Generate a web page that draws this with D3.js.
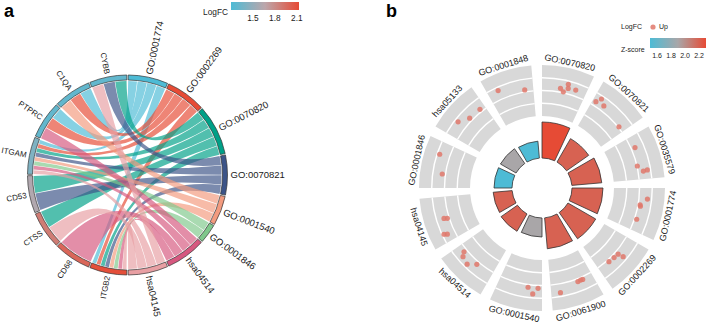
<!DOCTYPE html>
<html>
<head>
<meta charset="utf-8">
<script src="https://cdn.jsdelivr.net/npm/d3@7"></script>
<style>
  body { margin: 0; background: #fff; }
  svg { font-family: Arial, "Liberation Sans", sans-serif; }
</style>
</head>
<body>
<svg id="fig" width="708" height="329"></svg>
<script>
// ---- panel a: GOChord ----
const genes = ["ITGB2", "CD68", "CTSS", "CD53", "ITGAM", "PTPRC", "C1QA", "CYBB"];
const geneLogFC = [2.11, 1.99, 1.88, 1.62, 1.41, 1.29, 1.29, 1.29];
const chordTerms = ["GO:0001774", "GO:0002269", "GO:0070820", "GO:0070821",
                    "GO:0001540", "GO:0001846", "hsa04514", "hsa04145"];
const termColors = ["#4DBBD5", "#E64B35", "#00A087", "#3C5488",
                    "#F39B7F", "#80C88C", "#D6587F", "#E89FA3"];
// terms each gene belongs to (same order as genes)
const geneTerms = [
  ["GO:0001774", "GO:0002269", "GO:0070820", "GO:0070821", "GO:0001540", "GO:0001846", "hsa04514", "hsa04145"],
  ["hsa04514"],
  ["GO:0070820", "hsa04145"],
  ["GO:0070820", "GO:0070821"],
  ["GO:0001774", "GO:0002269", "GO:0070820", "GO:0070821", "GO:0001540", "GO:0001846", "hsa04514", "hsa04145"],
  ["GO:0001774", "GO:0002269", "hsa04514"],
  ["GO:0001774", "GO:0002269", "GO:0001540"],
  ["GO:0070820", "GO:0070821", "hsa04145"]
];
const lfcTicks = [1.5, 1.8, 2.1];

// ---- panel b: GOCircle ----
const circleTerms = ["GO:0070820", "GO:0070821", "GO:0035579", "GO:0001774", "GO:0002269", "GO:0061900",
                     "GO:0001540", "hsa04514", "hsa04145", "GO:0001846", "hsa05133", "GO:0001848"];
const termSig = [7.2, 5.4, 6.0, 6.2, 6.4, 6.2, 3.8, 4.0, 3.8, 3.6, 3.6, 3.4];
const termZ = [2.3, 2.2, 2.2, 2.2, 2.2, 2.2, 1.9, 2.2, 2.2, 1.5, 1.9, 1.5];
const dotPos = [
  [0.42, 0.50, 0.57, 0.59, 0.76],
  [0.08, 0.15, 0.28, 0.86],
  [0.26, 0.68, 0.81, 0.82],
  [0.24, 0.39, 0.42, 0.73],
  [0.41, 0.44, 0.56, 0.71],
  [0.24, 0.29, 0.36, 0.80],
  [0.09, 0.20, 0.32],
  [0.42, 0.58, 0.76, 0.83],
  [0.16, 0.19, 0.49, 0.51],
  [0.32, 0.73],
  [0.33, 0.56, 0.87],
  [0.23, 0.80]
];
const dotLogFC = [
  [1.73, 1.56, 2.06, 1.82, 1.86],
  [1.75, 2.06, 1.81, 1.55],
  [1.73, 1.52, 2.05, 1.81],
  [2.00, 1.62, 1.65, 1.63],
  [2.02, 1.70, 1.66, 1.62],
  [1.65, 1.64, 1.66, 2.02],
  [1.67, 2.02, 1.66],
  [1.67, 2.05, 1.92, 1.69],
  [1.96, 2.14, 1.61, 1.80],
  [1.69, 2.10],
  [2.05, 1.68, 1.66],
  [2.05, 1.62]
];
const trackLines = [0.75, 1.5, 2.25];
const zTicks = [1.6, 1.8, 2.0, 2.2];

const svg = d3.select("#fig");
const defs = svg.append("defs");
const deg = a => a * 180 / Math.PI;

function addGradient(id, scale) {
  const [lo, hi] = d3.extent(scale.domain());
  const grad = defs.append("linearGradient").attr("id", id);
  d3.range(0, 1.0001, 0.1).forEach(t => {
    grad.append("stop").attr("offset", t).attr("stop-color", scale(lo + t * (hi - lo)));
  });
}

// panel letters
svg.append("text").attr("x", 4).attr("y", 17).attr("font-size", 18).attr("font-weight", "bold").text("a");
svg.append("text").attr("x", 386).attr("y", 17).attr("font-size", 18).attr("font-weight", "bold").text("b");

// ================= panel a =================
const lfcColor = d3.scaleLinear().domain([1.2, 1.665, 2.13]).range(["#4DBBD5", "#BCA6AB", "#E64B35"]);
const gA = svg.append("g").attr("transform", "translate(127.5,175)");

const units = chordTerms.map(t => geneTerms.filter(list => list.includes(t)).length);
const termAngle = d3.scaleLinear().domain([0, d3.sum(units)]).range([0, Math.PI]);
const geneAngle = d3.scaleBand().domain(genes).range([Math.PI, 2 * Math.PI]);
const pad = 0.007, subPad = 0.003;

let cum = 0;
const termSeg = chordTerms.map((t, i) => {
  const s = cum; cum += units[i];
  return { name: t, u0: s, start: termAngle(s), end: termAngle(cum), color: termColors[i], size: 9.5 };
});
const geneSeg = genes.map((g, i) => ({
  name: g, start: geneAngle(g), end: geneAngle(g) + geneAngle.bandwidth(), color: lfcColor(geneLogFC[i]), size: 8
}));

// build links
const links = [];
chordTerms.forEach((t, ti) => {
  // genes clockwise inside term segment: descending gene index
  const members = genes.map((g, gi) => gi).filter(gi => geneTerms[gi].includes(t)).reverse();
  members.forEach((gi, k) => {
    const gTerms = chordTerms.filter(x => geneTerms[gi].includes(x)).reverse();
    const n = gTerms.length, j = gTerms.indexOf(t);
    const seg = geneSeg[gi];
    const w = (seg.end - seg.start - 2 * pad) / n;
    links.push({
      color: termColors[ti],
      source: { startAngle: seg.start + pad + j * w + subPad, endAngle: seg.start + pad + (j + 1) * w - subPad },
      target: { startAngle: termAngle(termSeg[ti].u0 + k) + (k === 0 ? pad : subPad),
                endAngle: termAngle(termSeg[ti].u0 + k + 1) - (k === members.length - 1 ? pad : subPad) }
    });
  });
});

const ribbon = d3.ribbon().radius(94);
gA.append("g").selectAll("path").data(links).join("path")
  .attr("d", ribbon)
  .attr("fill", d => d.color)
  .attr("fill-opacity", 0.68);

const ringArc = d3.arc().innerRadius(95).outerRadius(100)
  .startAngle(d => d.start + pad).endAngle(d => d.end - pad);
gA.append("g").selectAll("path").data(termSeg.concat(geneSeg)).join("path")
  .attr("d", ringArc)
  .attr("fill", d => d.color)
  .attr("stroke", "#333")
  .attr("stroke-width", 0.7);

gA.append("g").selectAll("text").data(termSeg.concat(geneSeg)).join("text")
  .attr("transform", d => {
    const a = (d.start + d.end) / 2, r = 103;
    const x = r * Math.sin(a), y = -r * Math.cos(a);
    const rot = a < Math.PI ? deg(a) - 90 : deg(a) + 90;
    return `translate(${x},${y}) rotate(${rot})`;
  })
  .attr("text-anchor", d => (d.start + d.end) / 2 < Math.PI ? "start" : "end")
  .attr("dy", "0.35em")
  .attr("font-size", d => d.size)
  .attr("fill", "#1a1a1a")
  .text(d => d.name);

// legend a
addGradient("lfcGrad", lfcColor);
const lfcX = d3.scaleLinear().domain([1.2, 2.13]).range([231, 299]);
svg.append("rect").attr("x", lfcX(1.2)).attr("y", 2).attr("width", lfcX(2.13) - lfcX(1.2)).attr("height", 8)
  .attr("fill", "url(#lfcGrad)");
svg.append("text").attr("x", 228).attr("y", 12.5).attr("dy", "0.35em").attr("text-anchor", "end")
  .attr("font-size", 8.3).attr("fill", "#222").text("LogFC");
svg.append("g").selectAll("text").data(lfcTicks).join("text")
  .attr("x", d => lfcX(d)).attr("y", 18).attr("dy", "0.35em").attr("text-anchor", "middle")
  .attr("font-size", 8.3).attr("fill", "#222").text(d => d.toFixed(1));

// ================= panel b =================
const zColor = d3.scaleLinear().domain([1.5, 1.9, 2.3]).range(["#4DBBD5", "#A9A6A8", "#E64B35"]);
const gB = svg.append("g").attr("transform", "translate(542,188)");
const sector = d3.scaleBand().domain(circleTerms).range([0, 2 * Math.PI])
  .paddingInner(1 / 6).paddingOuter(1 / 12).align(0);
const rTrack = d3.scaleLinear().domain([0, 3]).range([72, 123]);
const rBar = d3.scaleLinear().domain([0, d3.max(termSig)]).range([30, 66]);

// tracks
gB.append("g").selectAll("path").data(circleTerms).join("path")
  .attr("d", t => d3.arc()({ innerRadius: rTrack(0), outerRadius: rTrack(3),
    startAngle: sector(t), endAngle: sector(t) + sector.bandwidth() }))
  .attr("fill", "#d8d8d8");

// white grid lines in tracks
circleTerms.forEach(t => {
  gB.append("g").selectAll("path").data(trackLines).join("path")
    .attr("d", v => d3.arc()({ innerRadius: rTrack(v) - 0.7, outerRadius: rTrack(v) + 0.7,
      startAngle: sector(t), endAngle: sector(t) + sector.bandwidth() }))
    .attr("fill", "#fff");
});

// dots
const dots = [];
circleTerms.forEach((t, i) => {
  dotPos[i].forEach((p, k) => dots.push({ a: sector(t) + p * sector.bandwidth(), v: dotLogFC[i][k] }));
});
gB.append("g").selectAll("circle").data(dots).join("circle")
  .attr("cx", d => rTrack(d.v) * Math.sin(d.a))
  .attr("cy", d => -rTrack(d.v) * Math.cos(d.a))
  .attr("r", 2.6)
  .attr("fill", "#E0786B")
  .attr("fill-opacity", 0.85);

// inner bars
gB.append("g").selectAll("path").data(circleTerms).join("path")
  .attr("d", (t, i) => d3.arc()({ innerRadius: rBar(0), outerRadius: rBar(termSig[i]),
    startAngle: sector(t), endAngle: sector(t) + sector.bandwidth() }))
  .attr("fill", (t, i) => zColor(termZ[i]))
  .attr("stroke", "#333")
  .attr("stroke-width", 0.8);

// term labels
gB.append("g").selectAll("text").data(circleTerms).join("text")
  .attr("transform", t => {
    const a = sector(t) + sector.bandwidth() / 2, r = 125.5;
    const flip = a > Math.PI / 2 && a < 3 * Math.PI / 2;
    return `translate(${r * Math.sin(a)},${-r * Math.cos(a)}) rotate(${flip ? deg(a) - 180 : deg(a)})`;
  })
  .attr("dy", t => {
    const a = sector(t) + sector.bandwidth() / 2;
    return (a > Math.PI / 2 && a < 3 * Math.PI / 2) ? "0.72em" : "0";
  })
  .attr("text-anchor", "middle")
  .attr("font-size", 9)
  .attr("fill", "#1a1a1a")
  .text(t => t);

// legend b
svg.append("text").attr("x", 621).attr("y", 27).attr("dy", "0.35em").attr("font-size", 7)
  .attr("fill", "#222").text("LogFC");
svg.append("circle").attr("cx", 653).attr("cy", 27).attr("r", 2.6).attr("fill", "#E0786B").attr("fill-opacity", 0.85);
svg.append("text").attr("x", 659).attr("y", 27).attr("dy", "0.35em").attr("font-size", 7)
  .attr("fill", "#222").text("Up");

addGradient("zGrad", zColor);
const zX = d3.scaleLinear().domain([1.5, 2.3]).range([650, 706]);
svg.append("rect").attr("x", zX(1.5)).attr("y", 38).attr("width", zX(2.3) - zX(1.5)).attr("height", 10)
  .attr("fill", "url(#zGrad)");
svg.append("text").attr("x", 621).attr("y", 50).attr("dy", "0.35em").attr("font-size", 7)
  .attr("fill", "#222").text("Z-score");
svg.append("g").selectAll("text").data(zTicks).join("text")
  .attr("x", d => zX(d)).attr("y", 56).attr("dy", "0.35em").attr("text-anchor", "middle")
  .attr("font-size", 7).attr("fill", "#222").text(d => d.toFixed(1));
</script>
</body>
</html>
